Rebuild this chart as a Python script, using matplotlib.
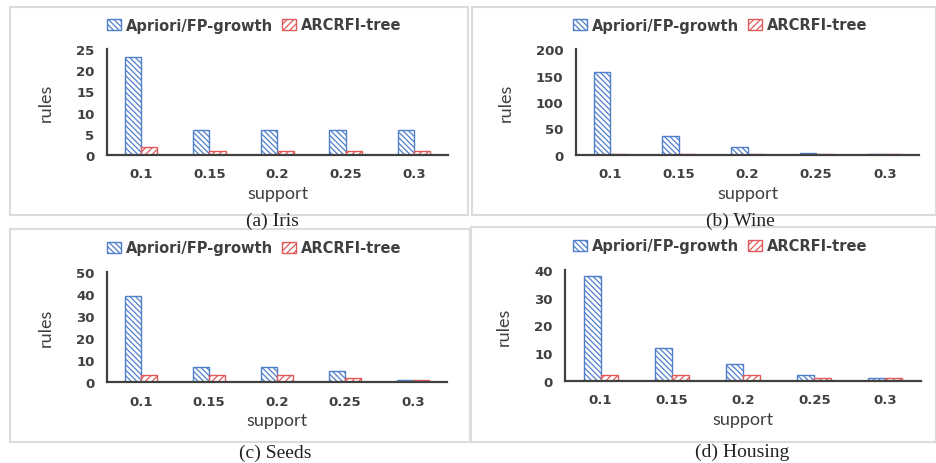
import matplotlib
matplotlib.use("Agg")
import matplotlib.pyplot as plt
import numpy as np
from matplotlib.patches import Rectangle

# === DATA ===
support = ["0.1", "0.15", "0.2", "0.25", "0.3"]
series_names = ["Apriori/FP-growth", "ARCRFI-tree"]

iris_apriori = [23, 6, 6, 6, 6]
iris_arcrfi = [2, 1, 1, 1, 1]
wine_apriori = [157, 36, 15, 3, 1]
wine_arcrfi = [1, 1, 1, 1, 1]
seeds_apriori = [39, 7, 7, 5, 1]
seeds_arcrfi = [3, 3, 3, 2, 1]
housing_apriori = [38, 12, 6, 2, 1]
housing_arcrfi = [2, 2, 2, 1, 1]

captions = ["(a) Iris", "(b) Wine", "(c) Seeds", "(d) Housing"]
yticks = [[0, 5, 10, 15, 20, 25], [0, 50, 100, 150, 200],
          [0, 10, 20, 30, 40, 50], [0, 10, 20, 30, 40]]

W, H = 936, 464
BLUE = "#4f7fcb"
RED = "#e05a5a"
AXC = "#404040"
plt.rcParams["hatch.linewidth"] = 0.9


def px(x0, y0, x1, y1):
    # pixel box (top-left origin) -> figure fraction rect
    return [x0 / W, 1 - y1 / H, (x1 - x0) / W, (y1 - y0) / H]


fig = plt.figure(figsize=(W / 100, H / 100), dpi=100)
fig.patch.set_facecolor("white")

# panel frames
frames = [(10, 8, 468, 216), (472, 8, 936, 216), (10, 230, 470, 443), (471, 228, 936, 443)]
for x0, y0, x1, y1 in frames:
    fig.patches.append(Rectangle((x0 / W, 1 - y1 / H), (x1 - x0) / W, (y1 - y0) / H,
                                 transform=fig.transFigure, fill=False,
                                 edgecolor="#dcdcdc", lw=1.5))

axes_boxes = [(107, 50, 448, 156), (576, 50, 919, 156), (107, 273, 447, 383), (565, 271, 921, 382)]
legend_pos = [(254, 26), (720, 26), (254, 249), (720, 247)]
caption_pos = [(272, 221), (740, 221), (275, 453), (742, 452)]
data = [(iris_apriori, iris_arcrfi), (wine_apriori, wine_arcrfi),
        (seeds_apriori, seeds_arcrfi), (housing_apriori, housing_arcrfi)]

x = np.arange(len(support))
w = 0.24
for i in range(4):
    ax = fig.add_axes(px(*axes_boxes[i]))
    a, r = data[i]
    b1 = ax.bar(x - w, a, w, align="edge", facecolor="white", edgecolor=BLUE,
                hatch="\\\\\\\\\\\\", lw=1.0, label=series_names[0])
    b2 = ax.bar(x, r, w, align="edge", facecolor="white", edgecolor=RED,
                hatch="/////", lw=1.0, label=series_names[1])
    ax.set_xlim(-0.5, len(support) - 0.5)
    ax.set_ylim(0, yticks[i][-1])
    ax.set_yticks(yticks[i])
    ax.set_xticks(x)
    ax.set_xticklabels(support)
    ax.tick_params(length=0, labelsize=9.5, colors="#404040", pad=9)
    for lab in ax.get_xticklabels() + ax.get_yticklabels():
        lab.set_family("DejaVu Sans")
        lab.set_fontweight("bold")
    for s in ["top", "right"]:
        ax.spines[s].set_visible(False)
    for s in ["left", "bottom"]:
        ax.spines[s].set_color(AXC)
        ax.spines[s].set_linewidth(1.6)
    ax.set_xlabel("support", fontsize=13, color="#404040", labelpad=3, family="Lato")
    ax.set_ylabel("rules", fontsize=13, color="#404040", labelpad=16, family="Lato")
    lx, ly = legend_pos[i]
    fig.legend(handles=[b1, b2], loc="center", bbox_to_anchor=(lx / W, 1 - ly / H),
               ncol=2, frameon=False, handlelength=1.0, handleheight=0.8,
               handletextpad=0.3, columnspacing=0.6, labelcolor="#404040",
               prop={"family": "DejaVu Sans", "weight": "bold", "size": 10.5})
    cx, cy = caption_pos[i]
    fig.text(cx / W, 1 - cy / H, captions[i], ha="center", va="center",
             fontsize=14, family="Liberation Serif", color="#222222")

fig.savefig("out.png", dpi=100, facecolor="white")
